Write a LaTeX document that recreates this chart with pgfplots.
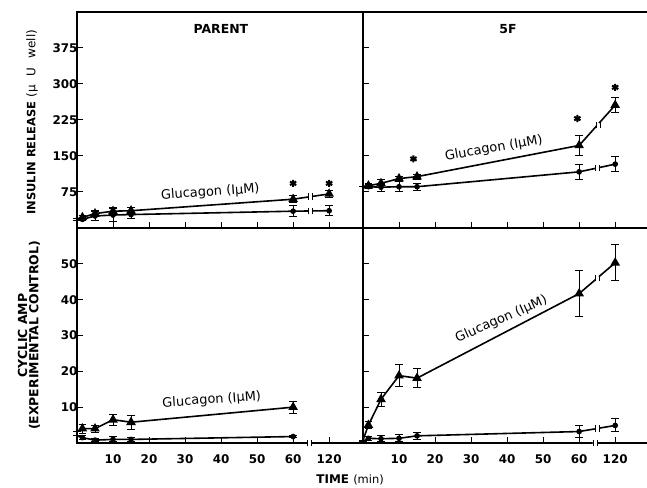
\documentclass[border=0pt]{standalone}
\usepackage{fontspec}
\setmainfont{DejaVu Sans}
\usepackage{pgfplots}
\pgfplotsset{compat=1.18}

% break sign on a line or on the time axis
\newcommand\brk[2]{%
  \fill[white] (axis cs:#1,#2) circle[radius=2.4bp];
  \draw[line width=0.9bp] ([xshift=-2bp,yshift=-3.2bp]axis cs:#1,#2) -- ++(0,6.4bp)
                          ([xshift=2bp,yshift=-3.2bp]axis cs:#1,#2) -- ++(0,6.4bp);}

\tikzset{glab/.style={font=\fontsize{13}{15}\selectfont}}

\pgfplotsset{
  panel/.style={
    scale only axis, width=286bp,
    xmin=0, xmax=79.4,
    axis line style={line width=1.4bp},
    tick align=inside, xtick pos=bottom, ytick pos=left,
    major tick length=6bp,
    tick style={line width=1bp, black},
    xtick={10,20,30,40,50,60,70},
    xticklabels={10,20,30,40,50,60,120},
    tick label style={font=\bfseries\fontsize{12}{14}\selectfont},
    xticklabel style={yshift=-8bp},
    yticklabel style={xshift=4bp},
    clip=false,
  },
  % right panels run past the page edge, so their right border is cut off
  rpanel/.style={panel, width=290bp, xmax=80.5, yticklabels={}},
  ebar/.style={
    error bars/y dir=both, error bars/y explicit,
    error bars/error bar style={line width=1bp},
    error bars/error mark options={rotate=90, mark size=3.8bp, line width=1bp}},
  gluc/.style={black, line width=1.6bp, mark=triangle*, mark size=4bp,
    mark options={solid}, ebar},
  ctrl/.style={black, line width=1.6bp, mark=*, mark size=2bp, ebar},
  star/.style={black, only marks, mark=asterisk, mark size=3.6bp, line width=2bp},
}

\begin{document}
\begin{tikzpicture}

% ---- insulin, parent
\begin{axis}[panel, at={(0bp,215bp)}, anchor=south west, height=216bp,
    ymin=0, ymax=450, ytick={75,150,225,300,375},
    yticklabels={75,150,225,300,375}, xticklabels={},
    ylabel={INSULIN RELEASE {\mdseries\fontsize{12}{14}\selectfont(µ\hspace{9bp}U\hspace{9bp}well)}},
    ylabel style={at={(axis description cs:-0.157,0.49)}, anchor=center,
      font=\bfseries\fontsize{11.5}{13}\selectfont},
    title={PARENT},
    title style={at={(axis description cs:0.503,0.894)}, anchor=center,
      font=\bfseries\fontsize{12.5}{14}\selectfont}]
\addplot[ctrl, mark indices={2,...,7}] coordinates {
  (0,16) +- (0,0) (1.5,18) +- (0,3) (5,25) +- (0,10) (10,27) +- (0,14)
  (15,28) +- (0,8) (60,35) +- (0,12) (70,36) +- (0,10)};
\addplot[gluc, mark indices={2,...,7}] coordinates {
  (0,19) +- (0,0) (1.5,22) +- (0,3) (5,30) +- (0,6) (10,35) +- (0,7)
  (15,36) +- (0,6) (60,60) +- (0,7) (70,71) +- (0,7)};
\addplot[star] coordinates {(60,93) (70,93)};
\brk{64.8}{35.5}
\brk{64.8}{65.5}
\node[glab, rotate=4] at (axis cs:37,74) {Glucagon (IµM)};
\end{axis}

% ---- insulin, 5F
\begin{axis}[rpanel, at={(286bp,215bp)}, anchor=south west, height=216bp,
    ymin=0, ymax=450, ytick={75,150,225,300,375}, xticklabels={},
    title={5F},
    title style={at={(axis description cs:0.5,0.894)}, anchor=center,
      font=\bfseries\fontsize{12.5}{14}\selectfont}]
\addplot[ctrl, mark indices={2,...,7}] coordinates {
  (0,86) +- (0,0) (1.5,86) +- (0,4) (5,85) +- (0,8) (10,86) +- (0,10)
  (15,86) +- (0,7) (60,117) +- (0,15) (70,133) +- (0,15)};
\addplot[gluc, mark indices={2,...,7}] coordinates {
  (0,87) +- (0,0) (1.5,88) +- (0,4) (5,93) +- (0,8) (10,103) +- (0,5)
  (15,107) +- (0,5) (60,172) +- (0,20) (70,256) +- (0,16)};
\addplot[star] coordinates {(14,144) (59.5,228) (70,293)};
\brk{65}{125}
\brk{65.3}{214}
\node[glab, rotate=10] at (axis cs:36.3,166) {Glucagon (IµM)};
\end{axis}

% ---- cyclic AMP, parent
\begin{axis}[panel, at={(0bp,0bp)}, anchor=south west, height=215bp,
    ymin=0, ymax=60, ytick={10,20,30,40,50},
    yticklabels={10,20,30,40,50},
    ylabel={CYCLIC AMP\\(EXPERIMENTAL CONTROL)},
    ylabel style={at={(axis description cs:-0.168,0.5)}, anchor=center,
      align=center, font=\bfseries\fontsize{12.5}{11.5}\selectfont},
    xlabel={TIME {\mdseries\fontsize{11.5}{13}\selectfont(min)}},
    xlabel style={at={(axis description cs:0.955,-0.172)}, anchor=center,
      font=\bfseries\fontsize{12}{14}\selectfont}]
\addplot[ctrl, mark indices={2,...,6}] coordinates {
  (0,2) +- (0,0) (1.5,1.5) +- (0,0.5) (5,0.8) +- (0,0.5) (10,1) +- (0,0.7)
  (15,1) +- (0,0.5) (60,1.8) +- (0,0.3)};
\addplot[gluc, mark indices={2,...,6}] coordinates {
  (0,3.2) +- (0,0) (1.5,4) +- (0,1.3) (5,4) +- (0,1) (10,6.5) +- (0,1.5)
  (15,5.8) +- (0,2) (60,10) +- (0,1.7)};
\brk{64.6}{0}
\node[glab, rotate=4] at (axis cs:37.4,12) {Glucagon (IµM)};
\end{axis}

% ---- cyclic AMP, 5F
\begin{axis}[rpanel, at={(286bp,0bp)}, anchor=south west, height=215bp,
    ymin=0, ymax=60, ytick={10,20,30,40,50}]
\addplot[ctrl, mark indices={2,...,7}] coordinates {
  (0,0.5) +- (0,0) (1.5,1.3) +- (0,0.5) (5,1.2) +- (0,0.8) (10,1.3) +- (0,1)
  (15,2) +- (0,0.9) (60,3.2) +- (0,1.7) (70,4.9) +- (0,1.8)};
\addplot[gluc, mark indices={2,...,7}] coordinates {
  (0,0.8) +- (0,0) (1.5,5) +- (0,1) (5,12.2) +- (0,2) (10,18.8) +- (0,3)
  (15,18.1) +- (0,2.6) (60,41.7) +- (0,6.5) (70,50.3) +- (0,5)};
\brk{64.4}{0}
\brk{65}{4}
\brk{65}{46}
\node[glab, rotate=24] at (axis cs:38.4,34.5) {Glucagon (IµM)};
\end{axis}

\pgfresetboundingbox
\path (-77bp,-45bp) rectangle (570bp,443bp);
\end{tikzpicture}
\end{document}
